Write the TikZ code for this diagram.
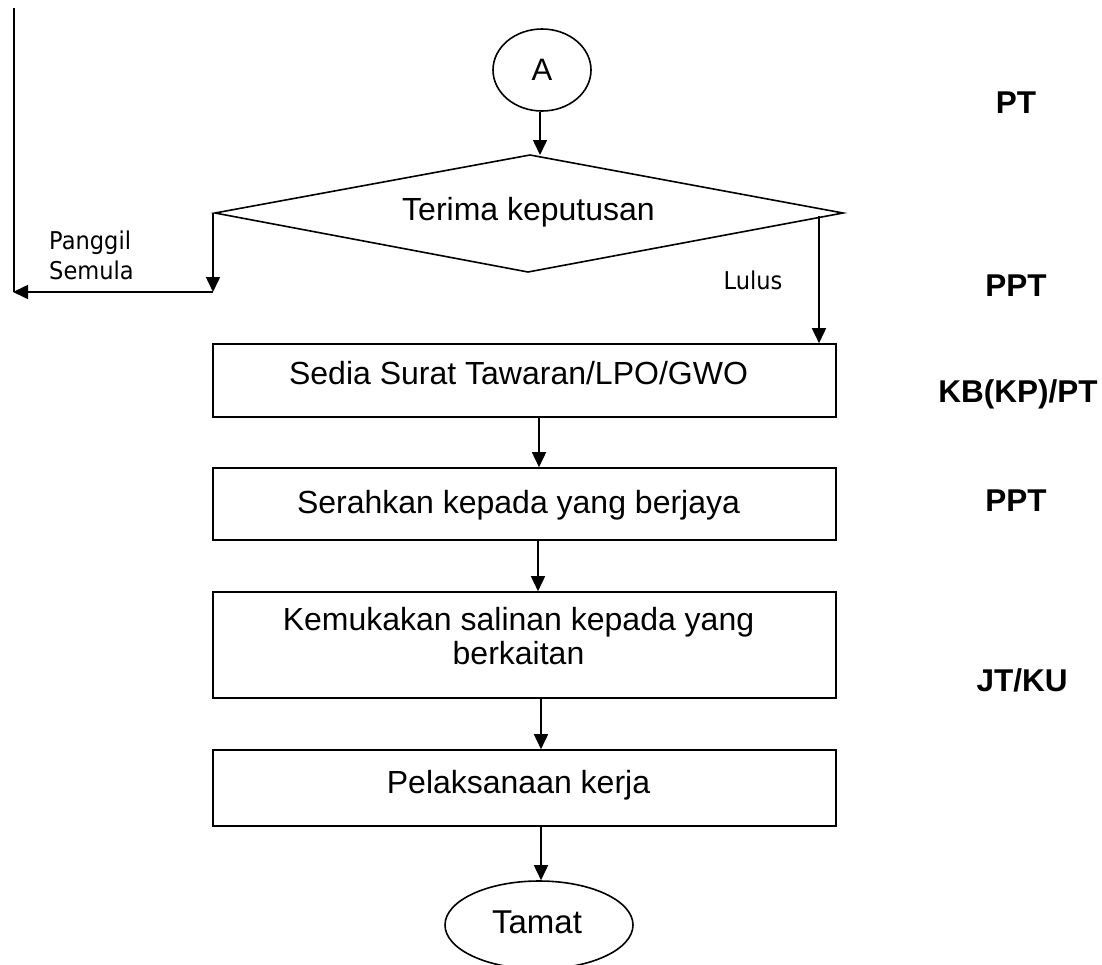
\documentclass[tikz,border=0pt]{standalone}
\usepackage{fontspec}
\setmainfont{Liberation Sans}
\newfontfamily\labelfont{DejaVu Sans}
\usetikzlibrary{arrows.meta,shapes.geometric}

\tikzset{
  line/.style={line width=1.6pt, line cap=butt},
  arr/.style={line, -{Triangle[length=15pt,width=14pt]}},
  stepbox/.style={draw, line width=1.6pt, rectangle, minimum width=623pt, inner sep=0pt},
  steptext/.style={align=center, inner sep=0pt, font=\fontsize{32}{34}\selectfont},
  terminal/.style={draw, line width=1.6pt, ellipse, inner sep=0pt,
    font=\fontsize{31}{34}\selectfont},
  branch/.style={font=\labelfont\fontsize{24.5}{30}\selectfont, align=left, inner sep=0pt},
  actor/.style={font=\bfseries\fontsize{31.5}{34}\selectfont, inner sep=0pt},
}
\newcommand{\narrow}[1]{\scalebox{0.92}[1]{#1}}

\begin{document}
\begin{tikzpicture}[x=1pt,y=-1pt]
\useasboundingbox (0,0) rectangle (1102,964);

% connector node A
\node[terminal, minimum width=98pt, minimum height=82pt] (A) at (542,70) {A};

% decision diamond
\coordinate (dL) at (215,213);
\coordinate (dT) at (530,155);
\coordinate (dR) at (843,213);
\coordinate (dB) at (528,272);
\draw[line, line join=miter] (dL) -- (dT) -- (dR) -- (dB) -- cycle;
\node[steptext] (dec) at (528.5,212) {Terima keputusan};

% process steps
\node[stepbox, minimum height=73pt] (s1) at (524.5,380.5) {};
\node[steptext] (s1t) at ([xshift=-6pt,yshift=7pt]s1.center) {Sedia Surat Tawaran/LPO/GWO};
\node[stepbox, minimum height=72pt] (s2) at (524.5,504) {};
\node[steptext] (s2t) at ([xshift=-6pt,yshift=-1pt]s2.center) {Serahkan kepada yang berjaya};
\node[stepbox, minimum height=106pt] (s3) at (524.5,645) {};
\node[steptext] (s3t) at ([xshift=-6pt,yshift=9pt]s3.center) {Kemukakan salinan kepada yang\\berkaitan};
\node[stepbox, minimum height=76pt] (s4) at (524.5,788) {};
\node[steptext] (s4t) at ([xshift=-6pt,yshift=3pt]s4.center) {Pelaksanaan kerja};

% end terminal
\node[terminal, minimum width=188pt, minimum height=88pt] (end) at (539,925) {};
\node[steptext, font=\fontsize{33}{36}\selectfont] (endt) at (537,922) {Tamat};

% main flow
\draw[arr] (A.south -| 540,0) -- (dT -| 540,0);
\coordinate (lulusTop) at (819,216);
\draw[arr] (lulusTop) -- (lulusTop |- s1.north);
\draw[arr] (s1.south -| 539,0) -- (s2.north -| 539,0);
\draw[arr] (s2.south -| 538,0) -- (s3.north -| 538,0);
\draw[arr] (s3.south -| 541,0) -- (s4.north -| 541,0);
\draw[arr] (s4.south -| 541,0) -- (end.north -| 541,0);

% recall branch
\coordinate (rc1) at (213,292);
\coordinate (rc2) at (13,292);
\coordinate (rcTop) at (14,8);
\draw[arr] (dL -| rc1) -- (rc1);
\draw[arr] (rc1) -- (rc2);
\draw[line] (rcTop) -- (14,292);

% branch labels
\node[branch, anchor=west] (lblRecall) at (49,255) {\narrow{Panggil}\\\narrow{Semula}};
\node[branch] (lblPass) at (753,280) {\narrow{Lulus}};

% responsibility labels
\node[actor] (r1) at (1016,103) {PT};
\node[actor] (r2) at (1016,286) {PPT};
\node[actor] (r3) at (1018,394) {KB(KP)/PT};
\node[actor] (r4) at (1016,501) {PPT};
\node[actor] (r5) at (1022,680) {JT/KU};
\end{tikzpicture}
\end{document}
